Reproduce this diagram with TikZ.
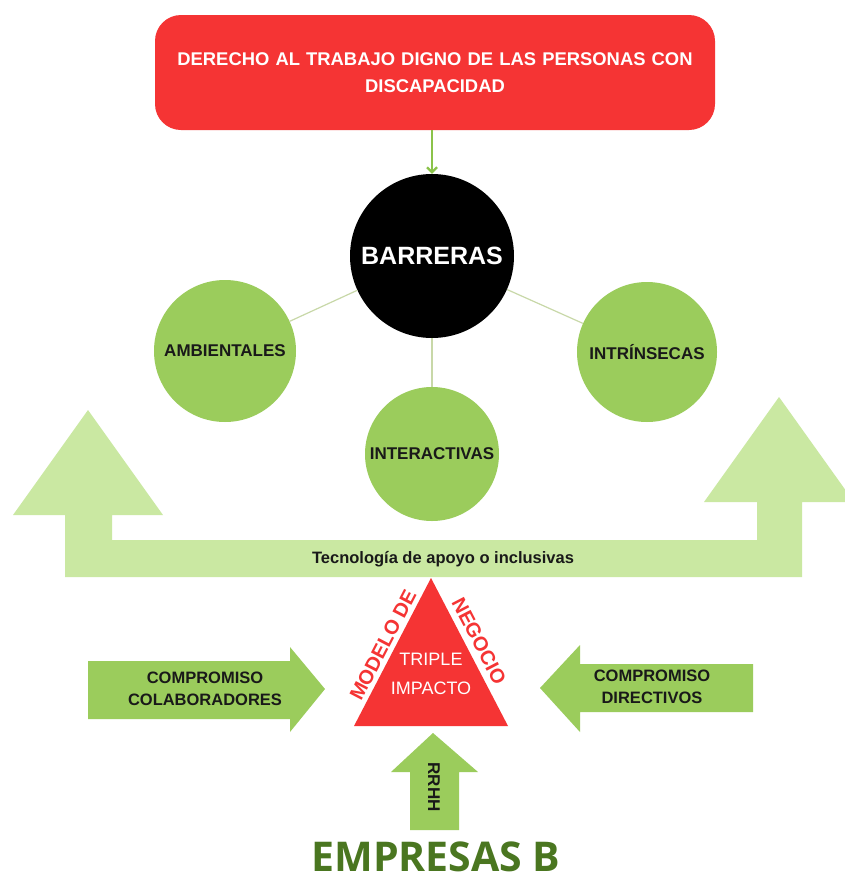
\documentclass[tikz,border=0pt]{standalone}
\usepackage{fontspec}
\setmainfont{Liberation Sans}
\newfontfamily\opensans{Open Sans}
\usetikzlibrary{arrows.meta}
\definecolor{cred}{RGB}{245,52,52}
\definecolor{cgreen}{RGB}{155,204,92}
\definecolor{clight}{RGB}{202,232,162}
\definecolor{clink}{RGB}{200,216,168}
\definecolor{carrow}{RGB}{139,195,74}
\definecolor{cdark}{RGB}{74,118,32}
\definecolor{ctext}{RGB}{25,25,25}
\tikzset{
  topbox/.style={fill=cred, rounded corners=26pt, minimum width=560pt, minimum height=115pt,
    text width=540pt, align=center, text=white, inner sep=0pt,
    font=\bfseries\fontsize{18.4}{27}\selectfont},
  gcirc/.style={circle, fill=cgreen, inner sep=0pt, text=ctext,
    font=\bfseries\fontsize{17}{20}\selectfont},
  conn/.style={draw=clink, line width=1.2pt},
  downarrow/.style={draw=carrow, line width=2.2pt, -{Straight Barb[length=5pt,width=10pt]}},
  armtext/.style={align=center, text=ctext, font=\bfseries\fontsize{16.5}{22}\selectfont},
  sidetext/.style={text=cred, inner sep=0pt, font=\bfseries\fontsize{20}{24}\selectfont},
  tritext/.style={text=white, inner sep=0pt, font=\fontsize{18}{22}\selectfont},
}
\begin{document}
\begin{tikzpicture}[x=1pt,y=-1pt]
\useasboundingbox (0,0) rectangle (845,881);
\clip (0,0) rectangle (845,881);
\fill[white] (0,0) rectangle (845,881);

% big U-shaped double arrow
\fill[clight] (65,577) -- (65,515) -- (13,515) -- (88,410) -- (163,515) -- (112,515)
  -- (112,540) -- (757,540) -- (757,502) -- (704,502) -- (779,397) -- (854,502)
  -- (802,502) -- (802,577) -- cycle;
\node[text=ctext, font=\bfseries\fontsize{16.5}{20}\selectfont] (tec) at (443,559)
  {Tecnología de apoyo o inclusivas};

% title box
\node[topbox] (top) at (435,72.5) {DERECHO AL TRABAJO DIGNO DE LAS PERSONAS CON\\DISCAPACIDAD};

% barriers
\node[circle, fill=black, minimum size=164pt, inner sep=0pt, text=white,
  font=\bfseries\fontsize{25}{30}\selectfont] (bar) at (432,256) {BARRERAS};
\node[gcirc, minimum size=142pt] (amb) at (225,351) {AMBIENTALES};
\node[gcirc, minimum size=140pt] (intr) at (647,352) {INTRÍNSECAS};
\node[gcirc, minimum size=134pt] (inter) at (432,454) {INTERACTIVAS};

\draw[conn] (bar) -- (amb);
\draw[conn] (bar) -- (intr);
\draw[conn] (bar) -- (inter);
\draw[downarrow] (top.south -| bar) -- (bar.north);

% triangle
\fill[cred] (431,578) -- (508,726) -- (354,726) -- cycle;
\node[tritext] (tri1) at (431,659) {TRIPLE};
\node[tritext] (tri2) at (431,688) {IMPACTO};
\node[sidetext, rotate=62.5] (mod) at (383,645) {MODELO DE};
\node[sidetext, rotate=-62.5] (neg) at (479,641) {NEGOCIO};

% side arrows
\fill[cgreen] (88,661) -- (290,661) -- (290,647) -- (325,689) -- (290,732) -- (290,719) -- (88,719) -- cycle;
\node[armtext] (colab) at (205,688.5) {COMPROMISO\\COLABORADORES};
\fill[cgreen] (753,664) -- (580,664) -- (580,645) -- (540,688) -- (580,732) -- (580,712) -- (753,712) -- cycle;
\node[armtext] (dir) at (652,687) {COMPROMISO\\DIRECTIVOS};

% bottom arrow
\fill[cgreen] (410,830) -- (410,772) -- (391,772) -- (433,733) -- (478,772) -- (459,772) -- (459,830) -- cycle;
\node[text=ctext, rotate=-90, font=\bfseries\fontsize{17}{20}\selectfont] (rrhh) at (434,787) {RRHH};

\node[text=cdark, inner sep=0pt, anchor=base, font=\opensans\bfseries\fontsize{41}{48}\selectfont] (emp) at (436,871) {EMPRESAS B};
\end{tikzpicture}
\end{document}
